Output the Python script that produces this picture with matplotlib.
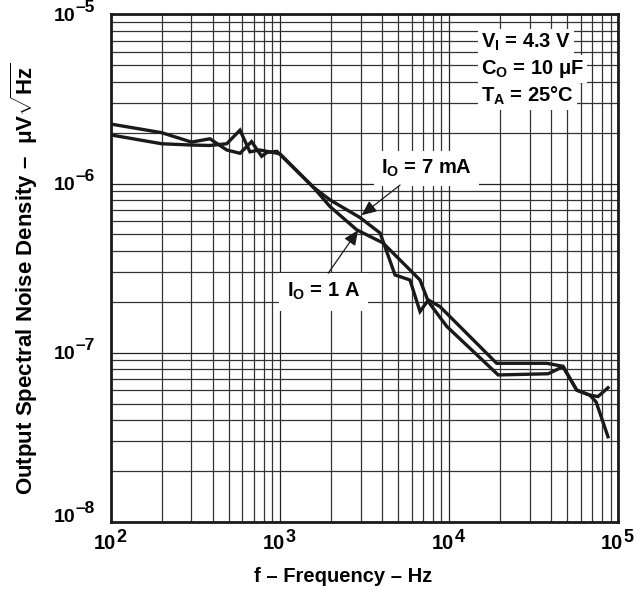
import matplotlib
matplotlib.use("Agg")
import matplotlib.pyplot as plt
from matplotlib.ticker import LogLocator, NullFormatter, FixedLocator

plt.rcParams['font.family'] = ['Liberation Sans', 'DejaVu Sans']
plt.rcParams['font.weight'] = 'bold'
plt.rcParams['mathtext.fontset'] = 'custom'
plt.rcParams['mathtext.rm'] = 'Liberation Sans:bold'
plt.rcParams['mathtext.bf'] = 'Liberation Sans:bold'
plt.rcParams['mathtext.it'] = 'Liberation Sans:bold:italic'
plt.rcParams['mathtext.sf'] = 'Liberation Sans:bold'
plt.rcParams['mathtext.default'] = 'rm'

# ---- data ----
freq_7ma = [100, 200, 300, 386, 485, 581, 680, 780, 840, 960, 1570, 1980, 2970,
            3910, 4790, 5870, 6730, 7540, 8840, 19100, 37800, 47100, 56800,
            68000, 75900, 86900]
noise_7ma = [2.25e-6, 2.0e-6, 1.76e-6, 1.84e-6, 1.58e-6, 1.51e-6, 1.77e-6,
             1.45e-6, 1.53e-6, 1.55e-6, 9.55e-7, 8.0e-7, 6.3e-7, 5.1e-7,
             2.88e-7, 2.69e-7, 1.75e-7, 2.05e-7, 1.87e-7, 8.65e-8, 8.65e-8,
             8.3e-8, 6.0e-8, 5.6e-8, 5.5e-8, 6.2e-8]

freq_1a = [100, 200, 300, 386, 485, 581, 665, 760, 1000, 1570, 1980, 2850,
           4060, 6730, 7540, 9680, 19500, 38500, 47100, 56800, 68000, 74000,
           86900]
noise_1a = [1.94e-6, 1.72e-6, 1.69e-6, 1.68e-6, 1.72e-6, 2.07e-6, 1.54e-6,
            1.58e-6, 1.5e-6, 9.55e-7, 7.3e-7, 5.32e-7, 4.46e-7, 2.69e-7,
            2.0e-7, 1.43e-7, 7.38e-8, 7.5e-8, 8.26e-8, 6.0e-8, 5.6e-8,
            5.1e-8, 3.18e-8]

x_ticks = [1e2, 1e3, 1e4, 1e5]
x_tick_exps = ['2', '3', '4', '5']
y_ticks = [1e-8, 1e-7, 1e-6, 1e-5]
y_tick_exps = ['–8', '–7', '–6', '–5']

fig = plt.figure(figsize=(6.44, 5.94), dpi=100)
ax = fig.add_axes([0.1719, 0.1217, 0.7882, 0.8539])

ax.plot(freq_7ma, noise_7ma, color='#1a1a1a', lw=2.4, solid_joinstyle='miter', zorder=5)
ax.plot(freq_1a, noise_1a, color='#1a1a1a', lw=2.4, solid_joinstyle='miter', zorder=5)

ax.set_xscale('log')
ax.set_yscale('log')
ax.set_xlim(1e2, 1e5)
ax.set_ylim(1e-8, 1e-5)

ax.xaxis.set_major_locator(FixedLocator(x_ticks))
ax.yaxis.set_major_locator(FixedLocator(y_ticks))
ax.xaxis.set_minor_locator(LogLocator(base=10, subs=range(2, 10)))
ax.yaxis.set_minor_locator(LogLocator(base=10, subs=range(2, 10)))
ax.xaxis.set_major_formatter(NullFormatter())
ax.yaxis.set_major_formatter(NullFormatter())
ax.xaxis.set_minor_formatter(NullFormatter())
ax.yaxis.set_minor_formatter(NullFormatter())

ax.grid(which='major', color='#222222', lw=0.9)
ax.grid(which='minor', color='#333333', lw=0.9)
ax.set_axisbelow(True)
ax.tick_params(which='both', length=0)
for s in ax.spines.values():
    s.set_linewidth(2)
    s.set_color('#1a1a1a')

# tick labels: "10" with a large superscript exponent
for v, e in zip(y_ticks, y_tick_exps):
    dy = 6 if v == y_ticks[0] else 0
    ax.annotate('10', xy=(0, v), xycoords=('axes fraction', 'data'),
                xytext=(-35.5, dy - 2), textcoords='offset pixels',
                ha='right', va='center', fontsize=14, fontweight='bold')
    ax.annotate(e, xy=(0, v), xycoords=('axes fraction', 'data'),
                xytext=(-35, dy + 7), textcoords='offset pixels',
                ha='left', va='center', fontsize=12.5, fontweight='bold')
for f, e in zip(x_ticks, x_tick_exps):
    ax.annotate('10', xy=(f, 0), xycoords=('data', 'axes fraction'),
                xytext=(5, -12), textcoords='offset pixels',
                ha='right', va='top', fontsize=14.5, fontweight='bold')
    ax.annotate(e, xy=(f, 0), xycoords=('data', 'axes fraction'),
                xytext=(5.5, -7), textcoords='offset pixels',
                ha='left', va='top', fontsize=13, fontweight='bold')

fig.text(343 / 644, 1 - 577 / 594, 'f – Frequency – Hz', fontsize=14.5,
         fontweight='bold', ha='center', va='center')
fig.text(24 / 644, 1 - 279 / 594,
         'Output Spectral Noise Density –  μV$\\sqrt{\\mathrm{Hz}}$',
         fontsize=16, fontweight='bold', ha='center', va='center', rotation=90)

bbox = dict(facecolor='white', edgecolor='none', pad=2)
for yy, s in zip([0.9458, 0.8925, 0.8393],
                 [r'$\mathrm{V_I}$ = 4.3 V', r'$\mathrm{C_O}$ = 10 μF',
                  r'$\mathrm{T_A}$ = 25°C']):
    ax.text(0.73, yy, s, transform=ax.transAxes, fontsize=14.5,
            fontweight='bold', va='center', ha='left', bbox=bbox, zorder=6)

arrow = dict(arrowstyle='-|>,head_length=0.9,head_width=0.4', color='#1a1a1a',
             lw=0.9, shrinkA=0, shrinkB=0)
ax.annotate('', xy=(3040, 6.5e-7), xytext=(5130, 9.8e-7), arrowprops=arrow, zorder=7)
ax.annotate('', xy=(2900, 5.3e-7), xytext=(1930, 2.95e-7), arrowprops=arrow, zorder=7)
ax.text(3960, 1.236e-6, r'$\mathrm{I_O}$ = 7 mA', fontsize=14.5, fontweight='bold',
        va='center', ha='left', bbox=dict(facecolor='white', edgecolor='none', pad=5), zorder=6)
ax.text(1103, 2.29e-7, r'$\mathrm{I_O}$ = 1 A', fontsize=14.5, fontweight='bold',
        va='center', ha='left', bbox=dict(facecolor='white', edgecolor='none', pad=6), zorder=6)

fig.savefig('out.png', dpi=100)
